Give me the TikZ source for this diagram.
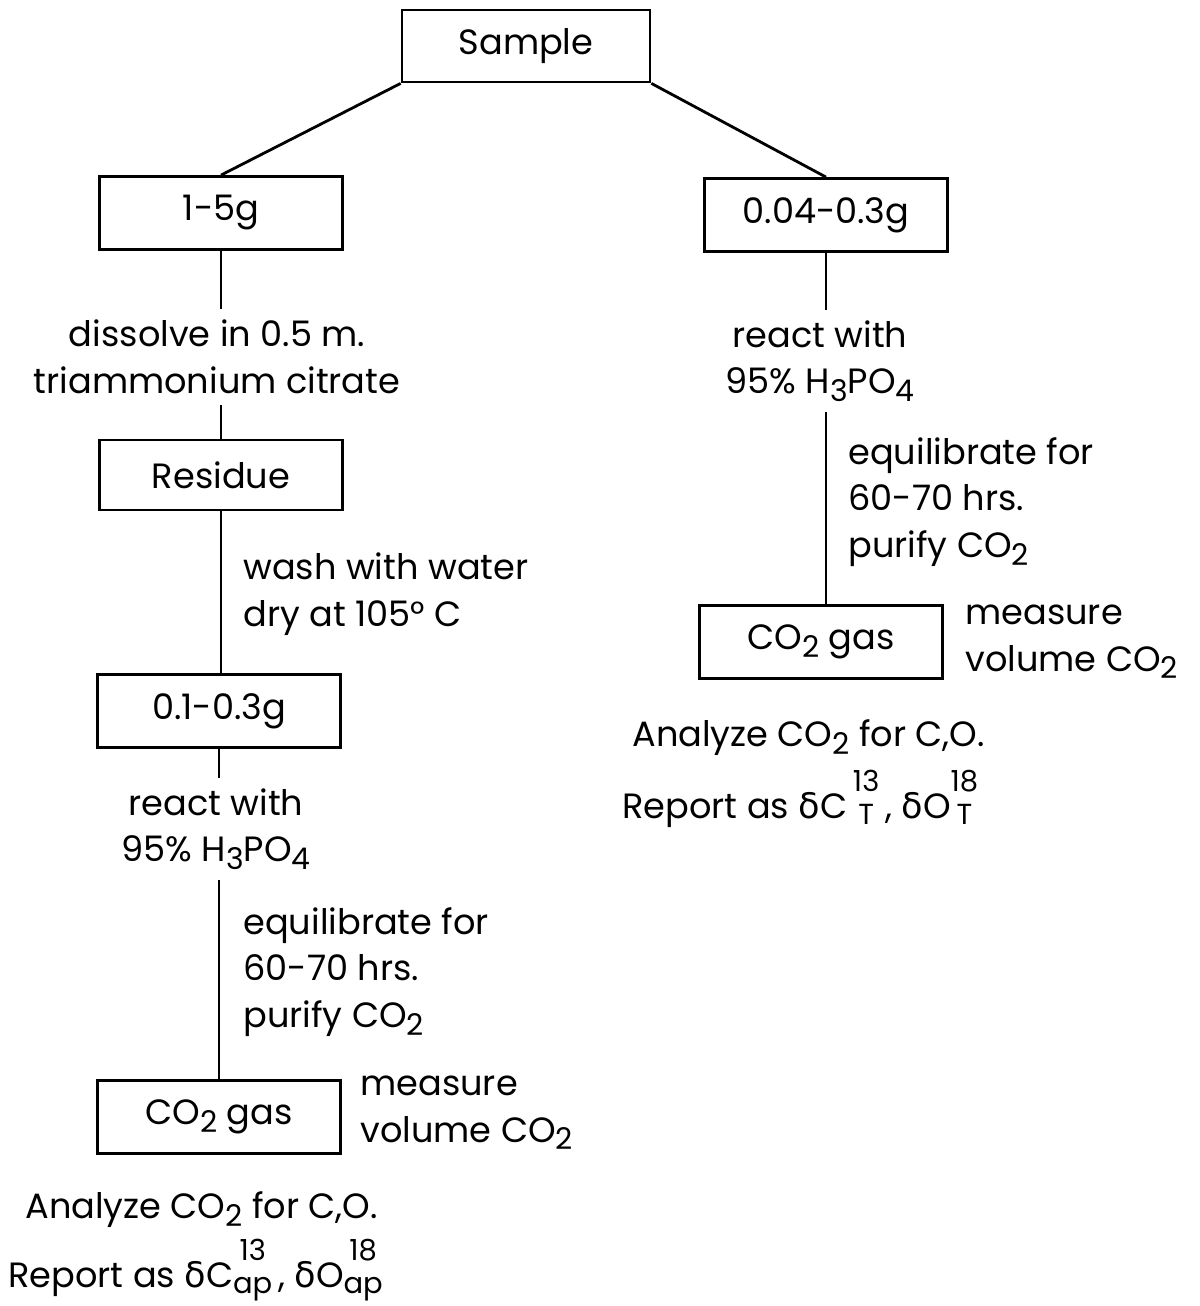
\documentclass[tikz,border=0pt]{standalone}
\usepackage{fontspec}
\setmainfont{Poppins}
\newfontfamily\grkfont{DejaVu Sans}
\usetikzlibrary{positioning}

\newcommand\lowsub[1]{\raisebox{-0.4ex}{\fontsize{17}{17}\selectfont #1}}
\newcommand\isofont{\fontsize{16.5}{16.5}\selectfont}
\newcommand\isot[2]{\ooalign{\hfil\raisebox{1.4ex}{\isofont #1}\hfil\cr\hfil\raisebox{-0.3ex}{\isofont #2}\hfil}}
\newcommand\dlt{{\grkfont δ}}

\begin{document}
\begin{tikzpicture}[x=0.02cm, y=-0.02cm,
  every node/.style={font=\fontsize{20}{26.5}\selectfont},
  box/.style={draw, line width=1.6pt, minimum width=4.86cm, minimum height=1.46cm, inner sep=0pt},
  txt/.style={align=center, inner sep=6pt},
  note/.style={align=left, anchor=west, inner sep=0pt},
  ln/.style={line width=1.6pt}
]
\useasboundingbox (0,0) rectangle (1200,1306);
% top
\node[box, minimum width=4.96cm, minimum height=1.44cm] (sample) at (526,46) {Sample};
% left branch, top to bottom
\node[box] (wtL)  at (221,213)  {1-5g};
\node[txt] (dis)  at (217,357)  {dissolve in 0.5 m.\\triammonium citrate};
\node[box, minimum height=1.4cm] (res) at (221,475) {Residue};
\node[note] (wash) at (243,594) {wash with water\\dry at 105° C};
\node[box] (sub)  at (219,711)  {0.1-0.3g};
\node[txt] (reaL) at (216,829)  {react with\\95\% H\lowsub{3}PO\lowsub{4}};
\node[note] (eqL) at (243,972)  {equilibrate for\\60-70 hrs.\\purify CO\lowsub{2}};
\node[box] (gasL) at (219,1117) {CO\lowsub{2} gas};
\node[note] (meaL) at (360,1113) {measure\\volume CO\lowsub{2}};
\node[note] (anaL) at (25,1210) {Analyze CO\lowsub{2} for C,O.};
\node[note] (repL) at (8,1270) {Report as \dlt C\isot{13}{ap}\,, \dlt O\isot{18}{ap}};
% right branch, top to bottom
\node[box] (wtR)  at (826,215)  {0.04-0.3g};
\node[txt] (reaR) at (820,361)  {react with\\95\% H\lowsub{3}PO\lowsub{4}};
\node[note] (eqR) at (848,502)  {equilibrate for\\60-70 hrs.\\purify CO\lowsub{2}};
\node[box] (gasR) at (821,642)  {CO\lowsub{2} gas};
\node[note] (meaR) at (965,642) {measure\\volume CO\lowsub{2}};
\node[note] (anaR) at (632,738) {Analyze CO\lowsub{2} for C,O.};
\node[note] (repR) at (622,799) {Report as \dlt C\,\isot{13}{T}\,, \dlt O\isot{18}{T}};
% connectors
\draw[ln] (sample.south west) -- (wtL.north);
\draw[ln] (sample.south east) -- (wtR.north);
\draw[ln] (wtL.south) -- (wtL.south |- dis.north);
\draw[ln] (res.north |- dis.south) -- (res.north);
\draw[ln] (res.south) -- (sub.north -| res.south);
\draw[ln] (sub.south) -- (sub.south |- reaL.north);
\draw[ln] (sub.south |- reaL.south) -- (gasL.north -| sub.south);
\draw[ln] (wtR.south) -- (wtR.south |- reaR.north);
\draw[ln] (wtR.south |- reaR.south) -- (gasR.north -| wtR.south);
\end{tikzpicture}
\end{document}
